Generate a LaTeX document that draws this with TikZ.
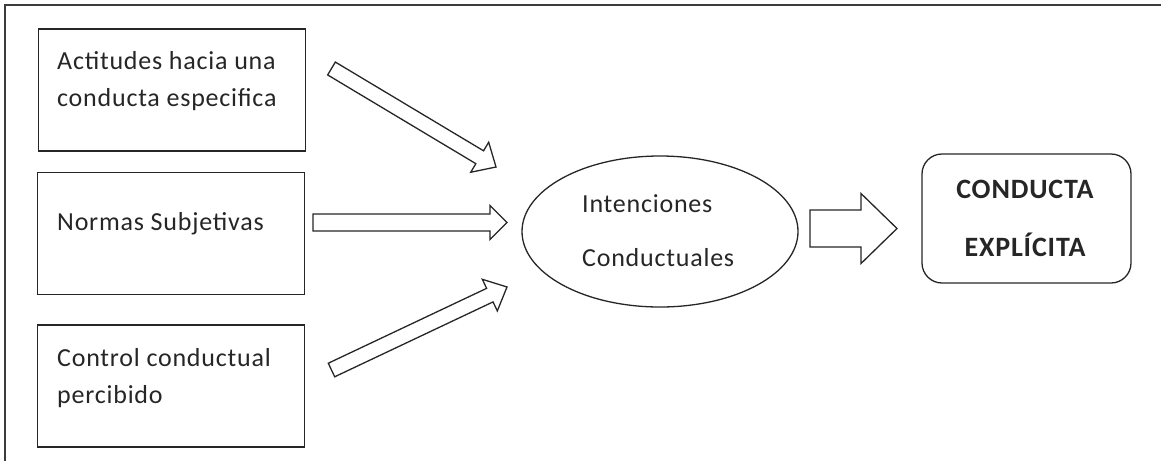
\documentclass[tikz,border=0pt]{standalone}
\usepackage{fontspec}
\setmainfont{Carlito}[LetterSpace=3]
\usetikzlibrary{calc,shapes.geometric}
\definecolor{ink}{HTML}{262626}
\newcommand\blockarr[5]{%
  \coordinate (hb) at ($(#2)!#5!(#1)$);
  \draw[arr] ($(#1)!#3!90:(#2)$) -- ($(hb)!#3!90:(#2)$) -- ($(hb)!#4!90:(#2)$) -- (#2)
    -- ($(hb)!#4!-90:(#2)$) -- ($(hb)!#3!-90:(#2)$) -- ($(#1)!#3!-90:(#2)$) -- cycle;}
\begin{document}
\begin{tikzpicture}[x=1pt,y=-1pt,
  box/.style={draw=ink,line width=1.3pt,rectangle,inner sep=0pt,minimum width=267pt,minimum height=122pt},
  txt/.style={text=ink,font=\fontsize{26}{30}\selectfont,inner sep=0pt},
  btxt/.style={text=ink,font=\fontsize{28}{32}\selectfont\bfseries,inner sep=0pt},
  arr/.style={draw=ink,line width=1.3pt,fill=white,line join=miter},
  frame/.style={draw=ink!90,line width=2pt}]
\useasboundingbox (0,0) rectangle (1161,461);
% frame
\coordinate (ftr) at (1161,5);
\coordinate (fc) at (5,5);
\coordinate (fbl) at (5,461);
\draw[frame] (ftr) -- (fc) -- (fbl);
% boxes
\node[box] (b1) at (172,90) {};
\node[box] (b2) at (171,233.5) {};
\node[box] (b3) at (171,386) {};
\node[txt,anchor=base west] (t1a) at (57,69) {Actitudes hacia una};
\node[txt,anchor=base west] (t1b) at (57,106) {conducta especifica};
\node[txt,anchor=base west] (t2) at (57,230) {Normas Subjetivas};
\node[txt,anchor=base west] (t3a) at (57,366) {Control conductual};
\node[txt,anchor=base west] (t3b) at (57,403) {percibido};
% ellipse
\node[draw=ink,line width=1.3pt,ellipse,minimum width=276pt,minimum height=151pt,inner sep=0pt] (ell) at (660,231.5) {};
\node[txt,anchor=base west] (e1) at (582,212) {Intenciones};
\node[txt,anchor=base west] (e2) at (582,266) {Conductuales};
% rounded box
\node[draw=ink,line width=1.3pt,rectangle,rounded corners=20pt,minimum width=209pt,minimum height=129pt,inner sep=0pt] (ce) at (1026.5,218.5) {};
\node[btxt,anchor=base] (c1) at (1025,198) {CONDUCTA};
\node[btxt,anchor=base] (c2) at (1025,256) {EXPLÍCITA};
% arrow end points
\coordinate (a1s) at (331.5,68.5);
\coordinate (a1e) at (496,167);
\coordinate (a2s) at (313,222.5);
\coordinate (a2e) at (507,222.5);
\coordinate (a3s) at (331.5,370);
\coordinate (a3e) at (507,287);
\coordinate (a4s) at (810,228.5);
\coordinate (a4e) at (897,228.5);
\blockarr{a1s}{a1e}{7.5pt}{17.5pt}{19pt}
\blockarr{a2s}{a2e}{8.5pt}{17pt}{17pt}
\blockarr{a3s}{a3e}{7.5pt}{17.5pt}{19pt}
\blockarr{a4s}{a4e}{18.5pt}{35pt}{36pt}
\end{tikzpicture}
\end{document}
